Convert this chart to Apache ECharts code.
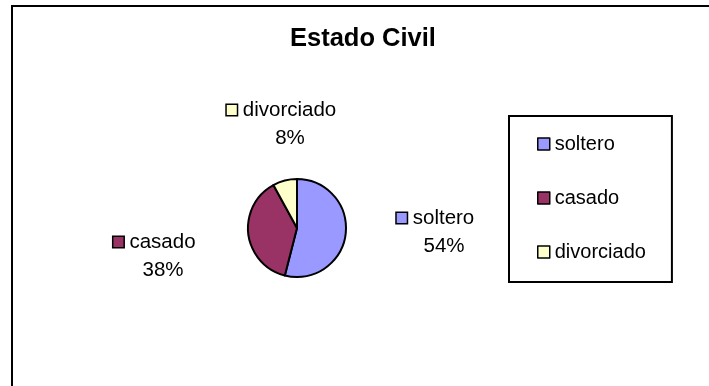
<!DOCTYPE html>
<html>
<head>
<meta charset="utf-8">
<script src="https://cdn.jsdelivr.net/npm/echarts@6/dist/echarts.min.js"></script>
<style>
  html, body { margin: 0; padding: 0; background: #fff; }
  #chart { width: 709px; height: 386px; }
</style>
</head>
<body>
<div id="chart"></div>
<script>
// Estado Civil: distribution by marital status
const categories = ['soltero', 'casado', 'divorciado'];
const values = [54, 38, 8];
const colors = ['#9999FF', '#993366', '#FFFFCC'];
const titleText = 'Estado Civil';

// Centre of each outside label block (px)
const labelAnchors = [[444, 232], [163, 256], [290, 124]];

const FONT = '"Liberation Sans", Arial, sans-serif';
const LABEL_SIZE = 20.5;

const rich = {
  n: { fontSize: LABEL_SIZE, fontFamily: FONT, color: '#000', lineHeight: 28 },
  p: { fontSize: LABEL_SIZE, fontFamily: FONT, color: '#000', lineHeight: 28 },
  g: { width: 6 },
  s: { width: 17 }
};
colors.forEach((c, i) => {
  rich['m' + i] = {
    width: 10, height: 10, backgroundColor: c,
    borderColor: '#000', borderWidth: 1.5
  };
});

const chart = echarts.init(document.getElementById('chart'), null, { renderer: 'canvas' });

chart.setOption({
  animation: false,
  backgroundColor: '#fff',
  title: {
    text: titleText,
    left: 290,
    top: 26,
    padding: 0,
    textStyle: { fontFamily: FONT, fontSize: 25.5, fontWeight: 'bold', color: '#000' }
  },
  legend: {
    orient: 'vertical',
    left: 509,
    top: 116,
    padding: [18, 26, 20, 28],
    itemGap: 34,
    itemWidth: 12,
    itemHeight: 12,
    icon: 'rect',
    borderColor: '#000',
    borderWidth: 2,
    data: categories,
    itemStyle: { borderColor: '#000', borderWidth: 1.5 },
    textStyle: { fontFamily: FONT, fontSize: 20, color: '#000', lineHeight: 20 }
  },
  graphic: [{
    type: 'rect',
    shape: { x: 12, y: 6, width: 720, height: 420 },
    style: { fill: 'none', stroke: '#000', lineWidth: 2 },
    silent: true
  }],
  series: [{
    type: 'pie',
    center: [297, 228],
    radius: 49,
    startAngle: 90,
    clockwise: true,
    label: {
      show: true,
      position: 'outside',
      formatter: (p) => '{m' + p.dataIndex + '|}{g|}{n|' + p.name + '}{s|}\n{p|' + p.percent.toFixed(0) + '%}',
      rich: rich
    },
    labelLine: { show: false },
    labelLayout: (params) => ({
      x: labelAnchors[params.dataIndex][0],
      y: labelAnchors[params.dataIndex][1],
      align: 'center',
      verticalAlign: 'middle'
    }),
    itemStyle: { borderColor: '#000', borderWidth: 2 },
    emphasis: { disabled: true },
    data: categories.map((name, i) => ({
      name: name,
      value: values[i],
      itemStyle: { color: colors[i] }
    }))
  }]
});
</script>
</body>
</html>
